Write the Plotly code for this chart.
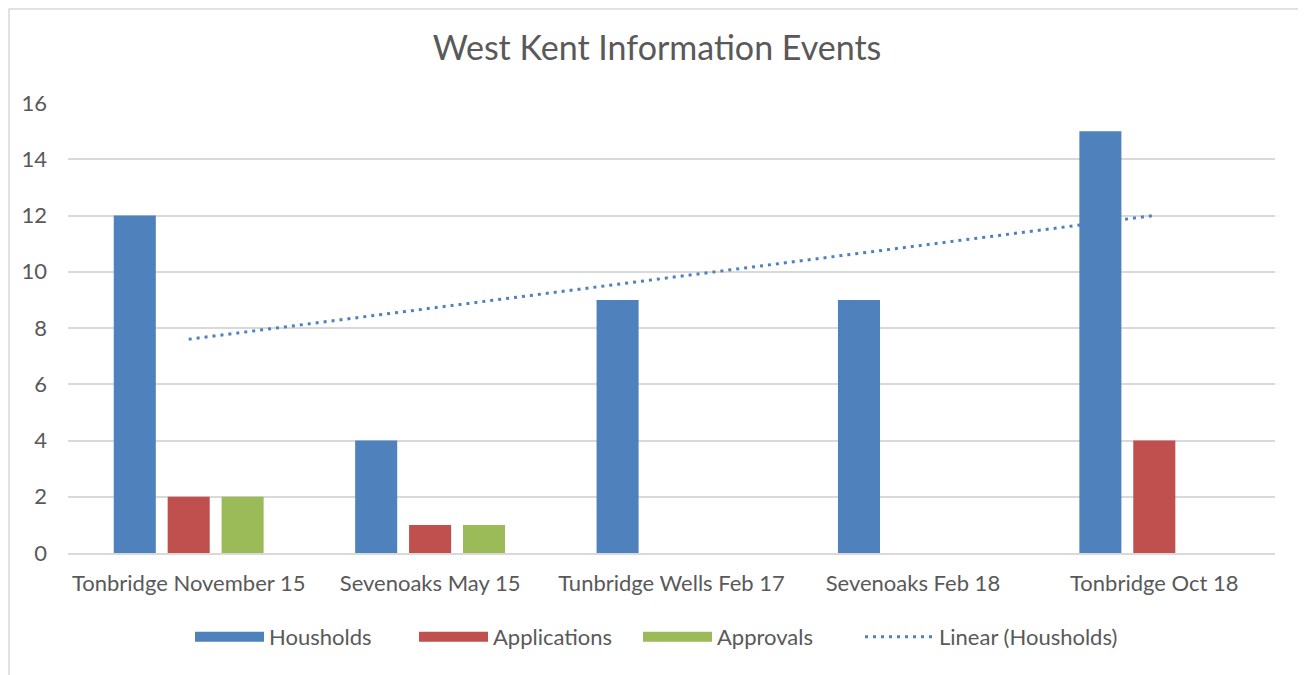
import numpy as np
import plotly.graph_objects as go

categories = ["Tonbridge November 15", "Sevenoaks May 15", "Tunbridge Wells Feb 17",
              "Sevenoaks Feb 18", "Tonbridge Oct 18"]
households = [12, 4, 9, 9, 15]
applications = [2, 1, 0, 0, 4]
approvals = [2, 1, 0, 0, 0]

BLUE = "#4F81BD"
RED = "#C0504D"
GREEN = "#9BBB59"
TEXT = "#595959"
GRID = "#D9D9D9"
FONT = "Lato"
DOTS = "3px,5px"

# Linear trendline of households (least squares over category index)
xi = np.arange(1, len(households) + 1)
slope, intercept = np.polyfit(xi, households, 1)
trend = slope * xi + intercept

fig = go.Figure()
for name, vals, col in [("Housholds", households, BLUE),
                        ("Applications", applications, RED),
                        ("Approvals", approvals, GREEN)]:
    fig.add_trace(go.Bar(x=categories, y=vals, name=name, marker_color=col,
                         marker_line_width=0, showlegend=False))

fig.add_trace(go.Scatter(x=categories, y=trend, mode="lines", showlegend=False,
                         line=dict(color=BLUE, width=3, dash=DOTS), hoverinfo="skip"))

# legend entries (wide rectangular swatches like the original)
for name, col in [("Housholds", BLUE), ("Applications", RED), ("Approvals", GREEN)]:
    fig.add_trace(go.Scatter(x=[None], y=[None], mode="lines", name=name,
                             line=dict(color=col, width=14), legend="legend"))
fig.add_trace(go.Scatter(x=[None], y=[None], mode="lines", name="Linear (Housholds)",
                         line=dict(color=BLUE, width=3, dash=DOTS), legend="legend2"))

OFF = 8  # page body margin
W, H = 1306 - OFF, 675 - OFF
L, R, T, B = 68 - OFF, W - (1275 - OFF), 103 - OFF, H - (553 - OFF)
pw, ph = W - L - R, H - T - B

def px(x):
    return (x - OFF - L) / pw

def py(y):
    return (H - B - (y - OFF)) / ph

fig.add_shape(type="rect", xref="paper", yref="paper",
              x0=px(9), x1=px(1301), y0=py(700), y1=py(9),
              line=dict(color=GRID, width=1.5), fillcolor="rgba(0,0,0,0)", layer="below")

legend_common = dict(orientation="h", yanchor="middle", y=py(637), xanchor="left",
                     font=dict(family=FONT, size=22, color=TEXT), itemwidth=69,
                     traceorder="normal", itemclick=False, bgcolor="rgba(0,0,0,0)")

fig.update_layout(
    width=W, height=H,
    margin=dict(l=L, r=R, t=T, b=B, autoexpand=False),
    paper_bgcolor="white", plot_bgcolor="white",
    title=dict(text="West Kent Information Events", x=0.5, xanchor="center",
               y=1 - (48 - OFF) / H, yanchor="middle", yref="container",
               font=dict(family=FONT, size=34, color=TEXT)),
    barmode="group", bargap=0.33, bargroupgap=0.22,
    font=dict(family=FONT, size=22, color=TEXT),
    xaxis=dict(showgrid=False, showline=True, linecolor=GRID, linewidth=2,
               tickfont=dict(family=FONT, size=22, color=TEXT), ticks="",
               ticklabelstandoff=10),
    yaxis=dict(range=[0, 16], dtick=2, showgrid=True, gridcolor=GRID, gridwidth=1.5,
               zeroline=False, ticks="", ticklabelstandoff=20,
               tickfont=dict(family=FONT, size=22, color=TEXT)),
    legend=dict(x=px(190), entrywidth=140, entrywidthmode="pixels", **legend_common),
    legend2=dict(x=px(860), **legend_common),
    showlegend=True,
)

fig.write_html("out.html")
